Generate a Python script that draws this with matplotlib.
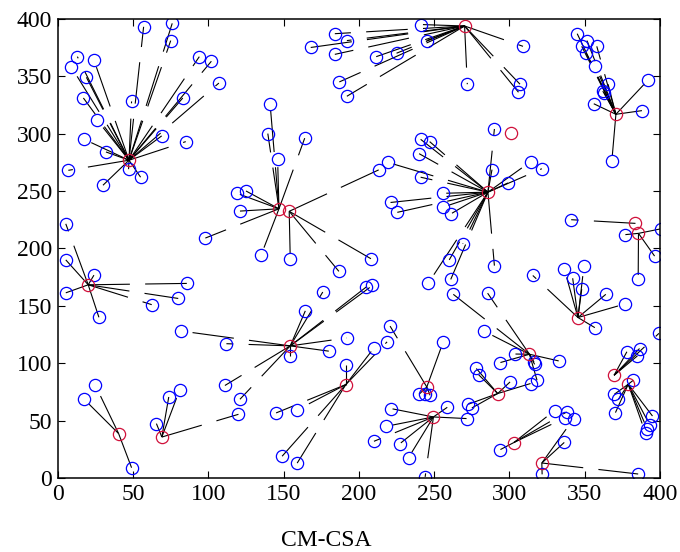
import matplotlib
matplotlib.use("Agg")
import matplotlib.pyplot as plt

# cluster heads (red)
head_x = [47.3, 270.2, 370.7, 146.9, 153.7, 285.7, 300.7, 383.7, 385.7, 20.2, 345.5, 154.4,
          313.3, 369.5, 378.9, 191.3, 40.4, 69.1, 245.1, 249.5, 292.2, 302.9, 321.5]
head_y = [276.8, 393.7, 316.8, 234.5, 232.3, 249.0, 300.3, 221.8, 213.1, 168.3, 139.8, 115.1,
          107.8, 89.5, 81.7, 81.4, 38.7, 35.7, 79.3, 53.2, 73.6, 30.9, 13.1]

# member nodes (blue) and the index of the head each one reports to
node_x = [
    57, 76, 75, 13, 24, 9, 19, 94, 102, 107, 17, 83, 49, 26, 69, 17.5, 85, 32, 7, 47, 55, 30,
    241, 245, 225, 211.5, 272, 184, 192, 168, 184, 187, 192, 309, 307, 306,
    345, 351.5, 348, 358, 351, 357, 365.5, 362, 363, 356, 392, 388, 368,
    119, 125, 121, 98, 135, 141, 139.5, 146, 164,
    154.4, 213.5, 208, 186.7,
    241, 247, 240, 219, 290, 288.4, 314, 321.5, 299, 241, 256, 221, 256, 225.5, 261, 269, 260, 261, 246, 290,
    341,
    377, 400.4, 396.4, 385.5,
    5.3, 5.3, 24, 5.3, 27.3, 85.7, 80, 62.4,
    315.5, 336.4, 349.5, 342, 348, 364, 377, 356.7,
    112, 154.4, 180, 192, 82, 111, 121, 205, 209, 164.4, 176,
    283, 262.7, 285.5, 304, 294, 332.7, 316.3, 316.7, 318.3,
    399.3, 378, 386.4, 385,
    382.3, 369.7, 372.4, 370.4, 395, 393.3, 391.5, 390.4,
    191.3, 145, 159, 149, 159, 210, 218.7,
    17.5, 24.7, 49,
    65.5, 73.7, 81, 120,
    240, 244, 247.3, 256, 220.7,
    221.3, 218, 210, 227.3, 233, 244, 258.7, 271.5,
    278, 279.5, 300.4, 314, 272.7, 275,
    294, 330, 338, 336.7,
    321.7, 336.4, 342.7, 385.5,
]
node_y = [
    393, 396, 381, 367, 364, 358, 349, 367, 363, 344, 331, 331, 328, 312, 298, 295, 293, 284, 268, 269, 262, 255,
    395, 381, 370, 367, 343, 387, 381, 375, 369, 345, 332.5, 376, 343, 336,
    387, 381, 376, 376, 370, 359, 343, 337, 335.5, 326, 346.5, 320, 276,
    248, 250, 232.5, 209, 194, 326, 300, 278, 296,
    191, 268.6, 191, 180,
    295, 293, 282.5, 275, 304, 268.6, 275.5, 269.4, 257, 262, 248, 240, 236, 231.4, 230, 204, 190, 173, 169.5, 185,
    225,
    212, 217, 193.3, 173,
    221.4, 190, 176.7, 161.3, 140, 169.5, 156.4, 151,
    176.4, 182, 185, 174, 164.5, 160, 151.7, 131,
    117, 106, 110.5, 122, 128, 80.6, 68.6, 166.5, 167.7, 145.6, 162,
    128, 160, 161, 108, 100.6, 102, 101, 99, 85.2,
    126, 110, 112.8, 106.4,
    85.2, 73, 68.6, 57, 54, 46, 42.5, 39,
    98.3, 56.7, 59.3, 19, 13, 113.3, 118.6,
    68.6, 81.4, 9,
    47.4, 70.6, 77, 55.5,
    73, 73.6, 72, 118.6, 132.3,
    60.5, 45, 32, 30, 17.8, 1, 61.6, 51.8,
    95.4, 90, 83.7, 82.3, 64.3, 61,
    24.8, 58.8, 57.5, 52.3,
    3.2, 31, 51.8, 3.5,
]
node_head = ([0] * 22 + [1] * 14 + [2] * 13 + [3] * 9 + [4] * 4 + [5] * 20 + [7] * 1 + [8] * 4
             + [9] * 8 + [10] * 8 + [11] * 11 + [12] * 9 + [13] * 4 + [14] * 8 + [15] * 7
             + [16] * 3 + [17] * 4 + [18] * 5 + [19] * 8 + [20] * 6 + [21] * 4 + [22] * 4)

plt.rcParams['font.family'] = ['Liberation Serif', 'DejaVu Serif']
plt.rcParams['lines.scale_dashes'] = False

fig = plt.figure(figsize=(6.8, 5.52), dpi=100)
ax = fig.add_axes([0.085, 0.134, 0.8856, 0.832])

# links from every node to its head
for nx, ny, h in zip(node_x, node_y, node_head):
    ax.plot([head_x[h], nx], [head_y[h], ny], color='black', lw=0.8,
            linestyle=(0, (30, 11)), zorder=1)

ax.plot(node_x, node_y, 'o', ms=8.8, mfc='none', mec='#0000ff', mew=0.9, zorder=2)
ax.plot(head_x, head_y, 'o', ms=8.8, mfc='none', mec='#d0103a', mew=0.9, zorder=3)

ax.set_xlim(0, 400)
ax.set_ylim(0, 400)
ax.set_xticks(range(0, 401, 50))
ax.set_yticks(range(0, 401, 50))
ax.tick_params(direction='in', top=True, right=True, length=5, width=0.8,
               labelsize=17, pad=4)
for s in ax.spines.values():
    s.set_linewidth(1.1)

fig.text(0.48, 0.0217, 'CM-CSA', ha='center', va='center', fontsize=17)

fig.savefig('out.png', dpi=100)
